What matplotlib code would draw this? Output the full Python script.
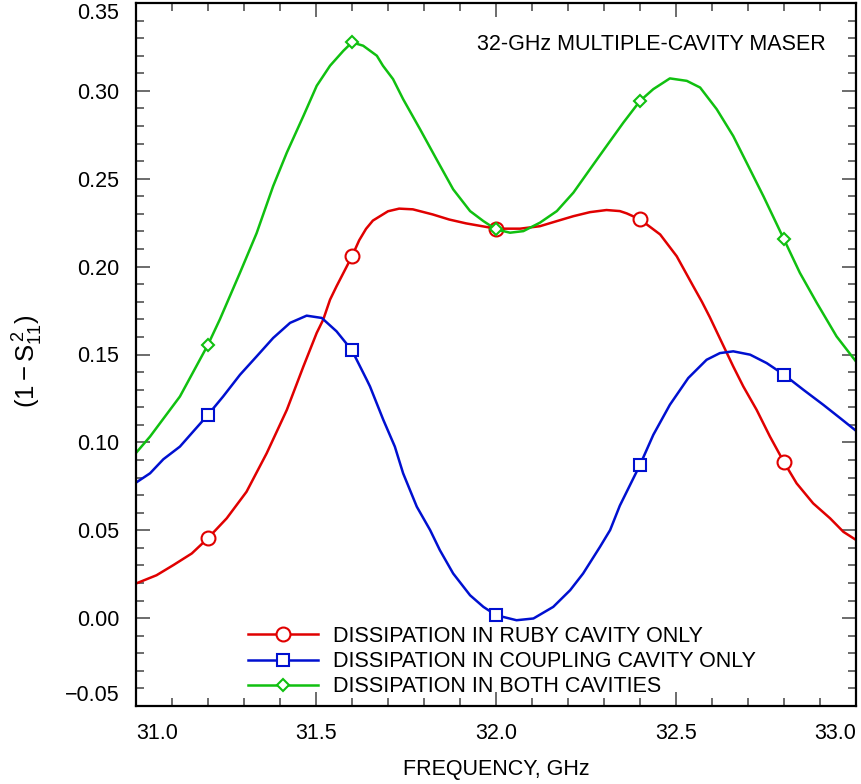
import numpy as np
import matplotlib
matplotlib.use("Agg")
import matplotlib.pyplot as plt
from matplotlib.ticker import MultipleLocator

plt.rcParams['font.family'] = ['Liberation Sans', 'DejaVu Sans']
plt.rcParams['mathtext.fontset'] = 'custom'
plt.rcParams['mathtext.rm'] = 'Liberation Sans'
plt.rcParams['mathtext.it'] = 'Liberation Sans:italic'
plt.rcParams['mathtext.sf'] = 'Liberation Sans'

# ---------------- data ----------------
marker_freqs = [31.2, 31.6, 32.0, 32.4, 32.8]

ruby_x = [31.0, 31.057, 31.104, 31.155, 31.2, 31.252, 31.307, 31.363, 31.419, 31.465,
          31.502, 31.52, 31.539, 31.557, 31.6, 31.62, 31.639, 31.658, 31.70, 31.731, 31.769,
          31.824, 31.87, 31.917, 32.0, 32.067, 32.122, 32.169, 32.215, 32.261, 32.307, 32.344,
          32.363, 32.4, 32.456, 32.502, 32.548, 32.572, 32.594, 32.613, 32.659, 32.687,
          32.724, 32.761, 32.8, 32.835, 32.881, 32.928, 32.965, 33.0]
ruby_y = [0.0197, 0.0244, 0.0302, 0.0368, 0.0455, 0.0568, 0.0719, 0.0938, 0.1185, 0.1432,
          0.1623, 0.1698, 0.1812, 0.1888, 0.2059, 0.2150, 0.2215, 0.2262, 0.2315, 0.2330, 0.2326,
          0.2297, 0.2268, 0.2246, 0.2216, 0.2216, 0.2230, 0.2259, 0.2287, 0.2310, 0.2322, 0.2316,
          0.2303, 0.2269, 0.2183, 0.2059, 0.1888, 0.1800, 0.1712, 0.1630, 0.1432, 0.1318,
          0.1185, 0.1033, 0.0887, 0.0767, 0.0653, 0.0568, 0.0491, 0.0445]

coupling_x = [31.0, 31.039, 31.076, 31.122, 31.159, 31.2, 31.242, 31.289, 31.335, 31.381,
              31.428, 31.474, 31.516, 31.557, 31.6, 31.641, 31.65, 31.687, 31.719, 31.742,
              31.78, 31.817, 31.844, 31.881, 31.928, 31.965, 32.0, 32.057, 32.104, 32.159,
              32.206, 32.242, 32.289, 32.317, 32.344, 32.4, 32.437, 32.483, 32.534,
              32.585, 32.622, 32.659, 32.706, 32.752, 32.8, 32.854, 32.909, 32.956, 33.0]
coupling_y = [0.0771, 0.0824, 0.0904, 0.0976, 0.1062, 0.1157, 0.1261, 0.1385, 0.1489, 0.1594,
              0.1680, 0.1721, 0.1708, 0.1632, 0.1523, 0.1356, 0.1318, 0.1128, 0.0976, 0.0824,
              0.0634, 0.0501, 0.0387, 0.0254, 0.0130, 0.0064, 0.0017, -0.0012, -0.0002, 0.0064,
              0.0159, 0.0254, 0.0406, 0.0501, 0.0640, 0.0872, 0.1043, 0.1214, 0.1366,
              0.1470, 0.1508, 0.1518, 0.1499, 0.1451, 0.1385, 0.1299, 0.1214, 0.1138, 0.1066]

both_x = [31.0, 31.039, 31.122, 31.2, 31.233, 31.289, 31.335, 31.381, 31.419, 31.465,
          31.502, 31.539, 31.576, 31.6, 31.631, 31.669, 31.686, 31.714, 31.742, 31.789,
          31.835, 31.881, 31.928, 31.965, 32.0, 32.039, 32.076, 32.122, 32.169, 32.215,
          32.261, 32.307, 32.354, 32.4, 32.437, 32.483, 32.53, 32.567, 32.613, 32.659,
          32.696, 32.743, 32.8, 32.844, 32.891, 32.946, 33.0]
both_y = [0.0940, 0.1033, 0.1261, 0.1556, 0.1700, 0.1966, 0.2190, 0.2458, 0.2649, 0.2857,
          0.3029, 0.3143, 0.3228, 0.3276, 0.3257, 0.3200, 0.3143, 0.3067, 0.2953, 0.2782,
          0.2610, 0.2440, 0.2316, 0.2259, 0.2212, 0.2193, 0.2202, 0.2250, 0.2316, 0.2421,
          0.2554, 0.2686, 0.2820, 0.2943, 0.3010, 0.3071, 0.3057, 0.3019, 0.2896, 0.2743,
          0.2592, 0.2400, 0.2155, 0.1965, 0.1794, 0.1603, 0.1460]

labels = ["DISSIPATION IN RUBY CAVITY ONLY",
          "DISSIPATION IN COUPLING CAVITY ONLY",
          "DISSIPATION IN BOTH CAVITIES"]
x_ticks = [31.0, 31.5, 32.0, 32.5, 33.0]
x_ticklabels = ["31.0", "31.5", "32.0", "32.5", "33.0"]
y_ticks = [-0.05, 0.0, 0.05, 0.10, 0.15, 0.20, 0.25, 0.30, 0.35]
y_ticklabels = ["\u22120.05", "0.00", "0.05", "0.10", "0.15", "0.20", "0.25", "0.30", "0.35"]

# ---------------- plot ----------------
FS = 15.5
fig = plt.figure(figsize=(8.62, 7.84), dpi=100)
ax = fig.add_axes([136/862, 1-706/784, 720/862, 703/784])

def mk_idx(xs):
    return [i for i, v in enumerate(xs) if any(np.isclose(v, m) for m in marker_freqs)]

series = [
    (ruby_x, ruby_y, '#e00000', 'o', 10),
    (coupling_x, coupling_y, '#0010d0', 's', 9),
    (both_x, both_y, '#10c010', 'D', 6),
]
for (xs, ys, c, m, ms), lab in zip(series, labels):
    ax.plot(xs, ys, color=c, lw=1.8, marker=m, ms=ms, mfc='white', mec=c, mew=1.5,
            markevery=mk_idx(xs), label=lab)

ax.set_xlim(31.0, 33.0)
ax.set_ylim(-0.05, 0.35)
ax.set_xticks(x_ticks)
ax.set_xticklabels(x_ticklabels)
ax.set_yticks(y_ticks)
ax.set_yticklabels(y_ticklabels)
ax.xaxis.set_minor_locator(MultipleLocator(0.1))
ax.yaxis.set_minor_locator(MultipleLocator(0.01))
ax.tick_params(which='both', direction='in', top=True, right=True, color='#444444',
               labelsize=FS, pad=12)
ax.tick_params(which='major', length=10, width=1.1)
ax.tick_params(which='minor', length=6, width=1.1)
for s in ax.spines.values():
    s.set_linewidth(1.6)

xt = ax.xaxis.get_major_ticks()
xt[0].label1.set_horizontalalignment('left')
xt[-1].label1.set_horizontalalignment('right')
yt = ax.yaxis.get_major_ticks()
yt[0].label1.set_verticalalignment('bottom')
yt[-1].label1.set_verticalalignment('top')

ax.set_xlabel("FREQUENCY, GHz", fontsize=FS)
ax.xaxis.set_label_coords(0.5, -0.076)
ax.xaxis.label.set_verticalalignment('top')
ax.set_ylabel(r"$(1 - \mathrm{S}_{11}^{\,2})$", fontsize=18.5)
ax.yaxis.set_label_coords(-0.126, 0.49)

ax.text(0.958, 0.933, "32-GHz MULTIPLE-CAVITY MASER", transform=ax.transAxes,
        ha='right', va='baseline', fontsize=FS)

ax.legend(loc='lower left', bbox_to_anchor=((244-136)/720, 0.006), frameon=False,
          fontsize=FS, handlelength=3.25, handletextpad=0.7, labelspacing=0.2,
          borderaxespad=0.2, borderpad=0.0)

fig.savefig("out.png", dpi=100)
